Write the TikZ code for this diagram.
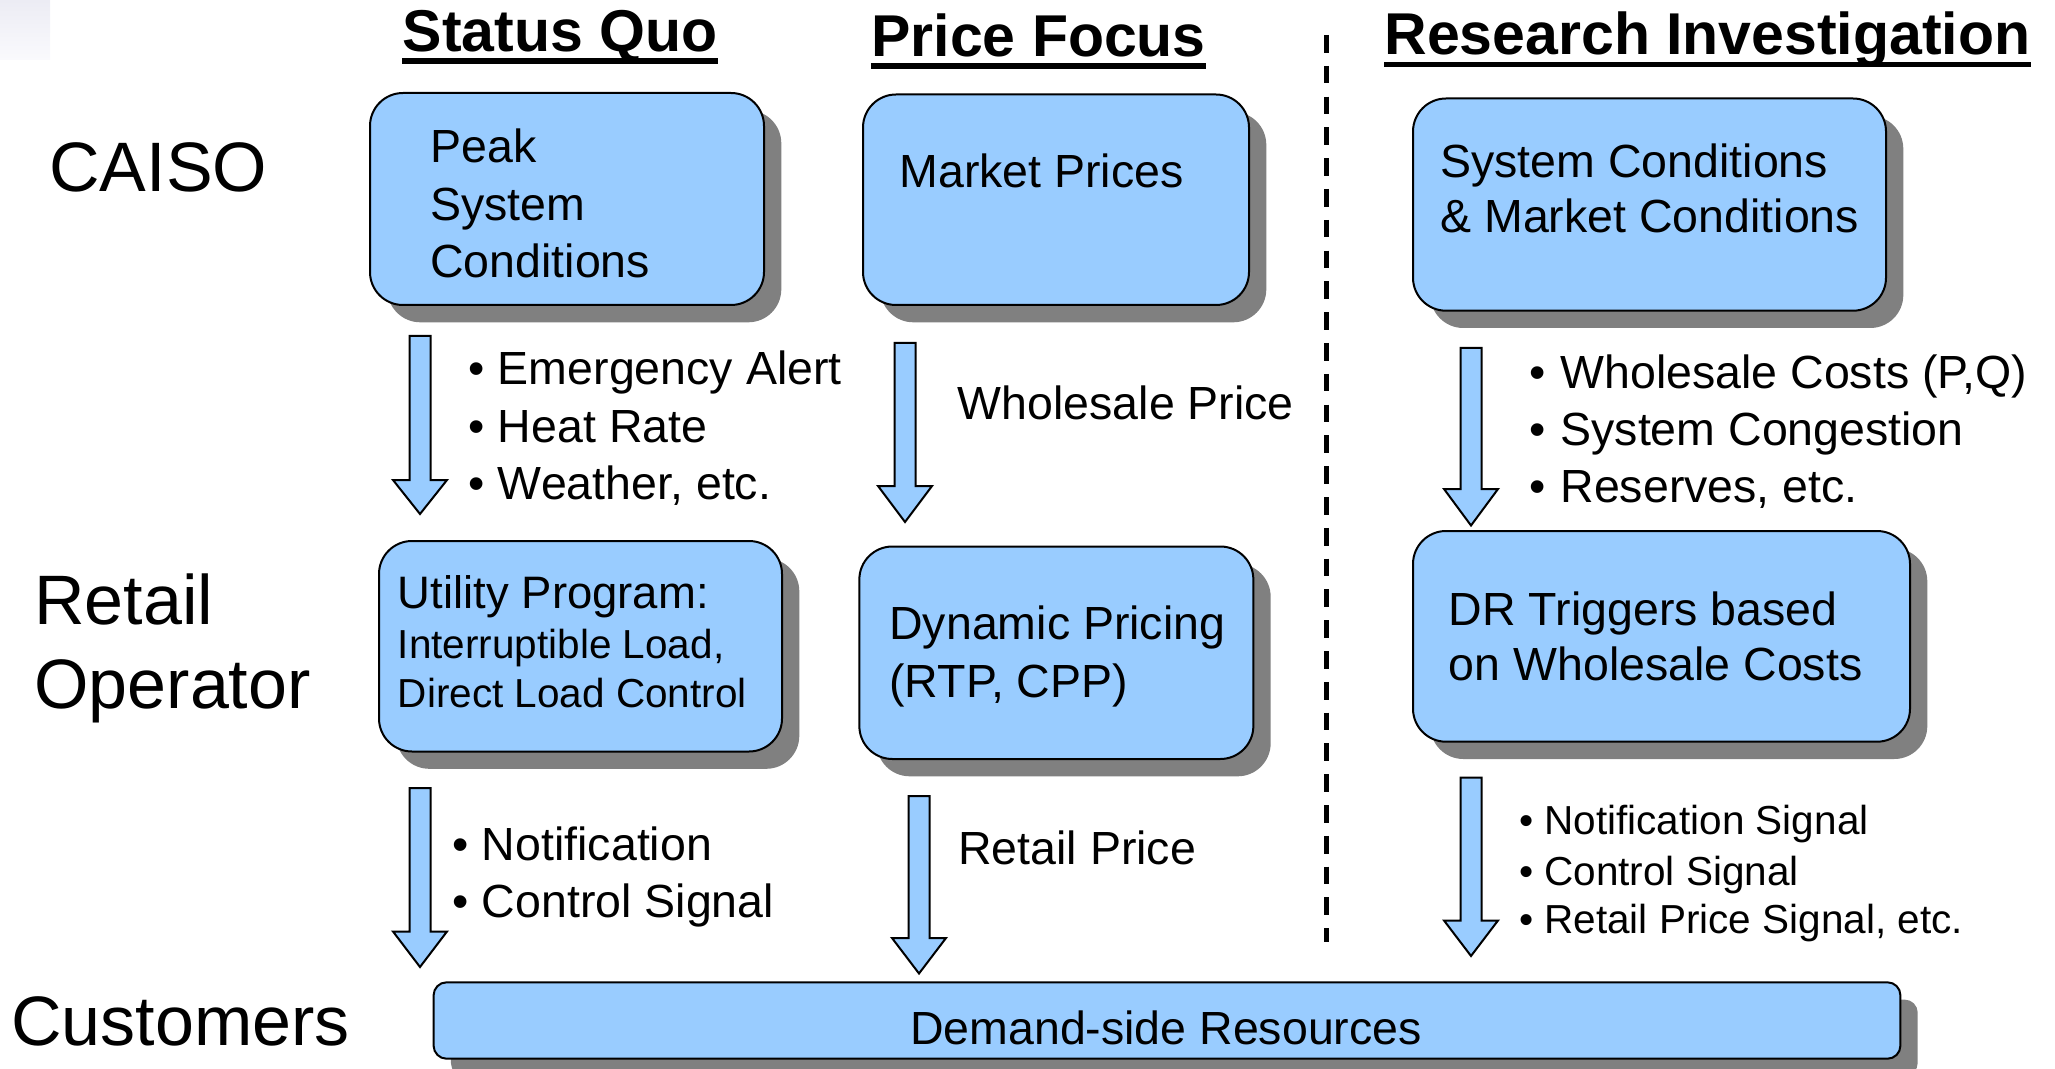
\documentclass[tikz,border=0pt]{standalone}
\usepackage{fontspec}
\setmainfont{Liberation Sans}
\usetikzlibrary{shadows,calc}
\definecolor{boxblue}{HTML}{99CCFF}
\definecolor{shadowgray}{HTML}{808080}
\newcommand{\blkarrow}[4]{%
  \draw[blockarr] ({#1-10.5},#2) -- ({#1+10.5},#2) -- ({#1+10.5},#3) -- ({#1+27},#3)
    -- (#1,#4) -- ({#1-27},#3) -- ({#1-10.5},#3) -- cycle;}
\newcommand{\bmain}{\makebox[14.8pt][l]{•}}
\newcommand{\bsmall}{\makebox[12.5pt][l]{•}}
\begin{document}
\begin{tikzpicture}[x=0.5pt,y=-0.5pt,
  box/.style={draw=black, line width=1pt, fill=boxblue, rounded corners=16.5pt, inner sep=0pt,
    drop shadow={shadow xshift=8.65pt, shadow yshift=-8.65pt, fill=shadowgray, opacity=1}},
  longbox/.style={box, rounded corners=6.5pt},
  blockarr/.style={draw=black, line width=1pt, fill=boxblue, line join=miter},
  lbl/.style={font=\fontsize{35}{42}\selectfont, anchor=base west, inner sep=0pt},
  ttl/.style={font=\bfseries\fontsize{29.5}{35}\selectfont, anchor=base, inner sep=0pt},
  txt/.style={font=\fontsize{23.25}{28.5}\selectfont, anchor=base west, inner sep=0pt},
  sml/.style={font=\fontsize{20.25}{24.5}\selectfont, anchor=base west, inner sep=0pt},
  uline/.style={line width=2.75pt},
  divider/.style={line width=2.5pt, dash pattern=on 8.85pt off 6.55pt}
]
\useasboundingbox (0,0) rectangle (2055,1069);
\shade[top color={rgb,255:red,236;green,236;blue,244}, bottom color={rgb,255:red,250;green,250;blue,253}] (0,0) rectangle (50,60);

% titles
\node[ttl] (t1) at (560,51.5) {Status Quo};
\node[ttl] (t2) at (1038.6,56.5) {Price Focus};
\node[ttl] (t3) at (1707.4,55) {Research Investigation};
\foreach \t in {t1,t2,t3}
  \draw[uline] ([yshift=-4.75pt]\t.base west) -- ([yshift=-4.75pt]\t.base east);

% divider
\coordinate (dtop) at (1326.7,35);
\coordinate (dbot) at (1326.7,942);
\draw[divider] (dtop) -- (dbot);

% side labels
\node[lbl] (caiso) at (49,191.7) {CAISO};
\node[lbl] (retail) at (34,624.5) {Retail};
\node[lbl] (oper) at (34,708.5) {Operator};
\node[lbl] (cust) at (11,1045) {Customers};

% boxes
\node[box, minimum width=197pt, minimum height=106pt] (b1) at (567,199) {};
\node[box, minimum width=193pt, minimum height=105.25pt] (b2) at (1056,199.75) {};
\node[box, minimum width=236.5pt, minimum height=106.1pt] (b3) at (1649.5,204.6) {};
\node[box, minimum width=201.5pt, minimum height=105.25pt] (b4) at (580.5,646.25) {};
\node[box, minimum width=197pt, minimum height=106.25pt] (b5) at (1056.35,652.75) {};
\node[box, minimum width=248.5pt, minimum height=105.35pt] (b6) at (1661.5,636.35) {};
\node[longbox, minimum width=733.4pt, minimum height=38.2pt] (dsr) at (1167,1020.5) {};

% box texts
\node[txt] (b1a) at (430,163) {Peak};
\node[txt] (b1b) at (430,221) {System};
\node[txt] (b1c) at (430,278) {Conditions};
\node[txt] (b2a) at (899,187.5) {Market Prices};
\node[txt] (b3a) at (1440,178) {System Conditions};
\node[txt] (b3b) at (1440,233) {\& Market Conditions};
\node[txt, font=\fontsize{22.75}{28}\selectfont] (b4a) at (397.5,608) {Utility Program:};
\node[sml] (b4b) at (397.5,658.5) {Interruptible Load,};
\node[sml] (b4c) at (397.5,707.5) {Direct Load Control};
\node[txt] (b5a) at (889,639.5) {Dynamic Pricing};
\node[txt] (b5b) at (889,697.5) {(RTP, CPP)};
\node[txt] (b6a) at (1448.5,625) {DR Triggers based};
\node[txt] (b6b) at (1448.5,680) {on Wholesale Costs};
\node[txt, anchor=base] (dsrt) at (1166,1044.5) {Demand-side Resources};

% arrows
\blkarrow{420}{336}{480}{514}
\blkarrow{905}{343}{486}{522}
\blkarrow{1471}{348}{489}{525.5}
\blkarrow{420}{788}{931.5}{967}
\blkarrow{919}{796}{938}{973.5}
\blkarrow{1471}{777.5}{920.5}{956}

% arrow labels
\node[txt] (l1a) at (468,384.5) {\bmain Emergency Alert};
\node[txt] (l1b) at (468,442.5) {\bmain Heat Rate};
\node[txt] (l1c) at (468,499.5) {\bmain Weather, etc.};
\node[txt] (l2) at (957.5,420) {Wholesale Price};
\node[txt] (l3a) at (1528.7,389) {\makebox[15.7pt][l]{•}Wholesale Costs (P,Q)};
\node[txt] (l3b) at (1528.7,445) {\makebox[15.7pt][l]{•}System Congestion};
\node[txt] (l3c) at (1528.7,502) {\makebox[15.7pt][l]{•}Reserves, etc.};
\node[txt] (l4a) at (452,860) {\bmain Notification};
\node[txt] (l4b) at (452,917) {\bmain Control Signal};
\node[txt] (l5) at (958,864) {Retail Price};
\node[sml] (l6a) at (1519,834.5) {\bsmall Notification Signal};
\node[sml] (l6b) at (1519,885) {\bsmall Control Signal};
\node[sml] (l6c) at (1519,933) {\bsmall Retail Price Signal, etc.};
\end{tikzpicture}
\end{document}
